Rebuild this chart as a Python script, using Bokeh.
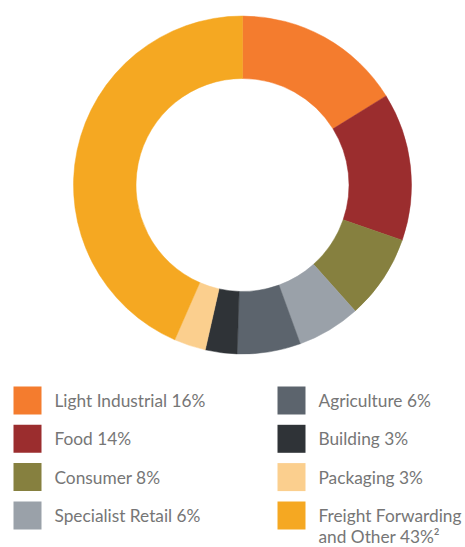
import math
from bokeh.plotting import figure
from bokeh.models import ColumnDataSource
from bokeh.core.properties import value
from bokeh.embed import file_html
from bokeh.resources import INLINE

categories = ["Light Industrial", "Food", "Consumer", "Specialist Retail",
              "Agriculture", "Building", "Packaging", "Freight Forwarding"]
shares = [16, 14, 8, 6, 6, 3, 3, 43]
colors = ["#F47C2E", "#9B2D2E", "#86803F", "#9AA1A9",
          "#5C646D", "#2F3337", "#FBCF8E", "#F5A822"]
legend_labels = ["Light Industrial 16%", "Food 14%", "Consumer 8%", "Specialist Retail 6%",
                 "Agriculture 6%", "Building 3%", "Packaging 3%", "Freight Forwarding"]
extra_line = "and Other 43%\u00b2"

W, H = 465, 547
p = figure(width=W, height=H, x_range=(0, W), y_range=(0, H),
           output_backend="svg", toolbar_location=None, min_border=0)
p.axis.visible = False
p.grid.visible = False
p.outline_line_color = None

total = sum(shares)
cx, cy = 242, H - 184.5
starts, ends = [], []
acc = 0
for s in shares:
    a0 = acc / total
    acc += s
    a1 = acc / total
    starts.append(math.pi / 2 - a1 * 2 * math.pi)
    ends.append(math.pi / 2 - a0 * 2 * math.pi)

src = ColumnDataSource(dict(start=starts, end=ends, color=colors,
                            x=[cx] * len(shares), y=[cy] * len(shares)))
p.annular_wedge(x="x", y="y", inner_radius=106.5, outer_radius=169,
                start_angle="start", end_angle="end", fill_color="color",
                line_color="color", line_width=0.5, source=src)

# legend
lx = [27 if i < 4 else 291 for i in range(8)]
rows = [400, 438.3, 476.6, 515]
ly = [H - rows[i % 4] for i in range(8)]
p.rect(x=lx, y=ly, width=28, height=28, fill_color=colors, line_color=None)

tx = [54 if i < 4 else 318 for i in range(8)]
font = dict(text_baseline="middle", text_align="left",
            text_font=value("Lato"), text_font_size="17.3px", text_color="#767676")
p.text(x=tx, y=ly, text=legend_labels, **font)
p.text(x=[318], y=[H - 536], text=[extra_line], **font)

open("out.html", "w").write(file_html(p, INLINE))
